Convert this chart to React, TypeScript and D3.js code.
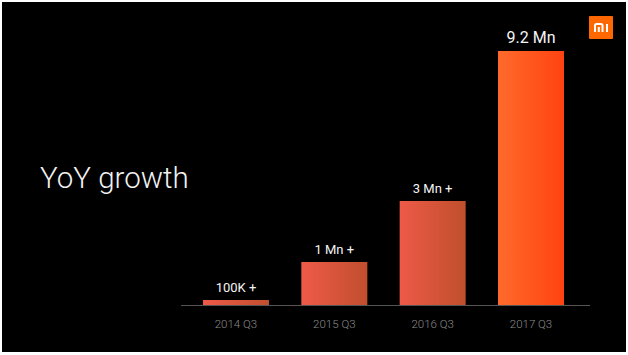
import React from "react";
import * as d3 from "d3";

const categories = ["2014 Q3", "2015 Q3", "2016 Q3", "2017 Q3"];
const labels = ["100K +", "1 Mn +", "3 Mn +", "9.2 Mn"];
// Drawn bar heights (the slide is not to scale with its labels)
const drawnValues = [5, 43, 104, 254];
const gradientStops = [
  ["#ee5a48", "#c24e2e"],
  ["#f05a48", "#c04f2e"],
  ["#ee5a48", "#bf4f2c"],
  ["#ff6a2c", "#ff4310"],
];
const font = "Roboto, 'Noto Sans', sans-serif";

export default function App() {
  const x = d3.scaleBand<string>().domain(categories).range([203, 564]).paddingInner(0.329).paddingOuter(0);
  const y = d3.scaleLinear().domain([0, 254]).range([305, 51]);
  return (
    <svg width={628} height={355} style={{ position: "absolute", left: 0, top: 0, background: "#fff" }}>
      <defs>
        {gradientStops.map((s, i) => (
          <linearGradient key={i} id={`g${i}`} x1="0" x2="1" y1="0" y2="0">
            <stop offset="0" stopColor={s[0]} />
            <stop offset="1" stopColor={s[1]} />
          </linearGradient>
        ))}
      </defs>
      <rect x={2} y={2} width={624} height={350} fill="#000" />
      <text x={40} y={188} fill="#f2f2f2" fontFamily={font} fontWeight={300} fontSize={29.5}>YoY growth</text>
      <line x1={181} x2={590} y1={305.5} y2={305.5} stroke="#555" strokeWidth={1} />
      {categories.map((c, i) => {
        const bx = x(c)!;
        const cx = bx + x.bandwidth() / 2;
        return (
          <g key={c}>
            <rect x={bx} y={y(drawnValues[i])} width={x.bandwidth()} height={305 - y(drawnValues[i])} fill={`url(#g${i})`} />
            <text x={cx} y={y(drawnValues[i]) - 8} textAnchor="middle" fill="#f4f4f4" fontFamily={font}
              fontSize={i === 3 ? 16 : 13}>{labels[i]}</text>
            <text x={cx} y={328} textAnchor="middle" fill="#8c8c8c" fontFamily={font} fontWeight={300} fontSize={11.5}>{c}</text>
          </g>
        );
      })}
      <rect x={589} y={16} width={24} height={23} rx={1} fill="#ff6700" />
      <g fill="none" stroke="#fff" strokeWidth={2}>
        <path d="M595 32V25.5Q595 24 596.5 24H601Q602.5 24 602.5 25.5V32" />
        <path d="M598.8 27V32" />
        <path d="M607 24V32" />
      </g>
    </svg>
  );
}
